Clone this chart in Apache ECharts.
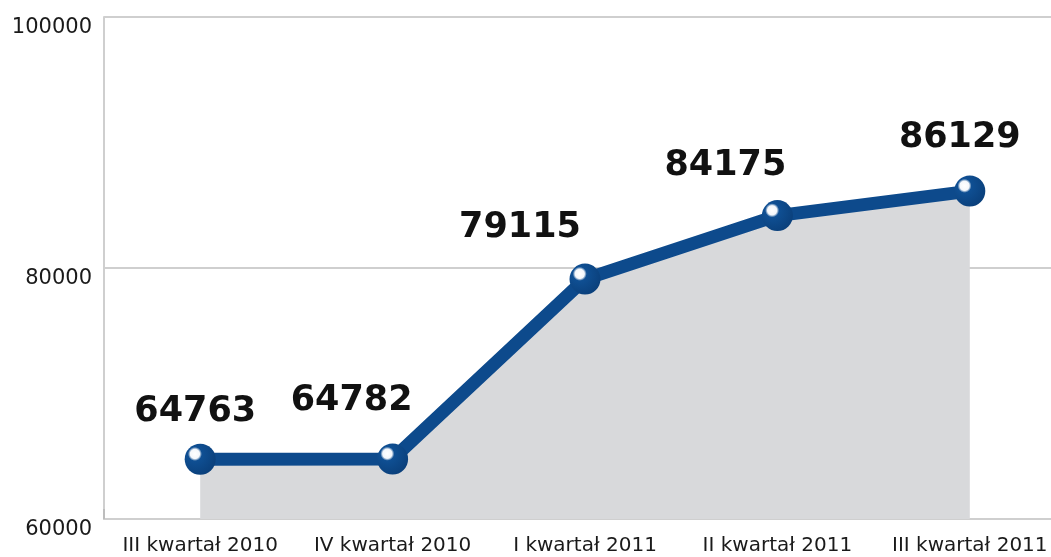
<!DOCTYPE html>
<html>
<head>
<meta charset="utf-8">
<script src="https://cdn.jsdelivr.net/npm/echarts@6/dist/echarts.min.js"></script>
<style>html,body{margin:0;padding:0;background:#fff;}#c{width:1051px;height:557px;}</style>
</head>
<body>
<div id="c"></div>
<script>
const categories = ['III kwartał 2010', 'IV kwartał 2010', 'I kwartał 2011', 'II kwartał 2011', 'III kwartał 2011'];
const values = [64763, 64782, 79115, 84175, 86129];
const yTicks = [60000, 80000, 100000];

const labelOffsets = [[-5, -47], [-41, -58], [-65, -51], [-52, -50], [-10, -53]];

const chart = echarts.init(document.getElementById('c'), null, {renderer: 'canvas'});
const markerColor = {
  type: 'radial', x: 0.33, y: 0.33, r: 0.75,
  colorStops: [
    {offset: 0, color: '#ffffff'},
    {offset: 0.2, color: '#f4f7fb'},
    {offset: 0.3, color: '#0f4f93'},
    {offset: 1, color: '#0a3f7a'}
  ]
};
chart.setOption({
  animation: false,
  backgroundColor: '#ffffff',
  grid: {left: 104, width: 962, top: 17, bottom: 38, containLabel: false, outerBoundsMode: 'none'},
  xAxis: {
    type: 'category',
    data: categories,
    boundaryGap: true,
    axisLine: {lineStyle: {color: '#cfcfcf', width: 2}},
    axisTick: {show: true, inside: true, length: 10, lineStyle: {color: '#bdbdbd', width: 2}},
    axisLabel: {interval: 0, hideOverlap: false, fontFamily: 'DejaVu Sans', fontSize: 20, color: '#1a1a1a', margin: 17}
  },
  yAxis: {
    type: 'value',
    min: yTicks[0],
    max: yTicks[yTicks.length - 1],
    interval: yTicks[1] - yTicks[0],
    axisLine: {show: true, lineStyle: {color: '#cfcfcf', width: 2}},
    axisTick: {show: false},
    splitLine: {lineStyle: {color: '#cfcfcf', width: 2}},
    axisLabel: {
      formatter: v => String(v),
      fontFamily: 'DejaVu Sans', fontSize: 21, color: '#1a1a1a', margin: 12,
      verticalAlign: 'top', lineHeight: 21
    }
  },
  series: [{
    type: 'line',
    data: values.map((v, i) => ({
      value: v,
      label: {offset: labelOffsets[i]}
    })),
    symbol: 'circle',
    symbolSize: 31,
    showAllSymbol: true,
    lineStyle: {color: '#0d4a8c', width: 13},
    itemStyle: {color: markerColor, borderWidth: 0},
    areaStyle: {color: '#d8d9db', opacity: 1, origin: 'start'},
    label: {
      show: true,
      position: 'inside',
      fontFamily: 'DejaVu Sans',
      fontWeight: 'bold',
      fontSize: 35,
      color: '#111111'
    },
    z: 3
  }]
});
</script>
</body>
</html>
